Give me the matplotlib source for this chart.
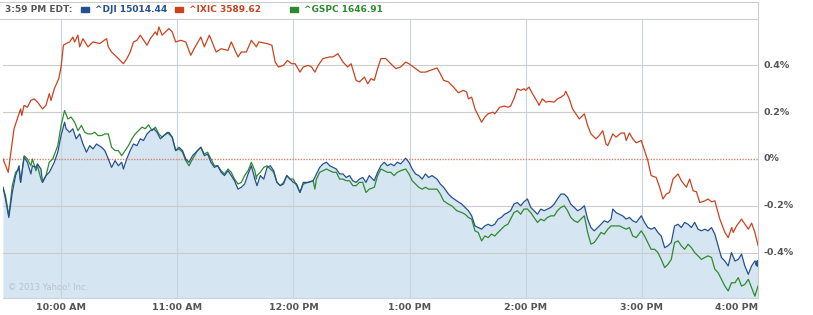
import matplotlib
matplotlib.use('Agg')
import matplotlib.pyplot as plt
from matplotlib.patches import Rectangle

# minutes after 9:30 AM, change in percent
dji_t = [0, 1.3, 3.0, 4.8, 6.5, 8.3, 9.1, 10.9, 12.6, 14.4, 15.2, 17.0, 17.8, 19.6, 20.4, 22.2, 23.9, 24.8, 26.5, 28.3,
         30.0, 31.8, 32.6, 34.4, 36.1, 37.8, 39.6, 41.3, 43.1, 44.8, 46.5, 48.3, 50.9, 52.6, 54.4, 56.1, 57.9, 59.6, 61.3, 62.2,
         63.9, 65.7, 67.4, 69.2, 70.9, 72.6, 74.4, 76.1, 77.9, 79.6, 81.3, 83.1, 85.7, 87.4, 89.2, 90.9, 92.7, 94.4, 96.1, 97.9,
         100.5, 102.2, 104.0, 105.7, 107.4, 109.2, 110.9, 112.7, 114.4, 116.2, 117.9, 119.6, 121.4, 123.1, 124.8, 126.6, 128.3, 130.1, 130.9,
         131.2, 132.9, 134.7, 136.4, 138.1, 139.8, 141.5, 143.2, 144.9, 146.6, 148.3, 150, 151.7, 153.4, 155.1, 157.7, 160.2, 161.9, 163.6, 165.3,
         167.1, 168.8, 170.5, 172.2, 173.9, 175.6, 177.3, 179.0, 180.7, 182.4, 184.1, 185.8, 187.5, 189.2, 191.8, 193.5, 195.2, 196.9, 198.6, 200.3,
         202.0, 203.7, 205.4, 208.0, 209.7, 211.4, 213.1, 214.8, 216.5, 218.2, 219.9, 221.6, 224.2, 225.9, 227.6, 230.1, 231.8, 234.4, 237.0, 238.7,
         240.4, 242.1, 243.8, 245.5, 247.2, 248.9, 250.6, 252.3, 254.0, 255.7, 257.4, 259.1, 260.8,
         262.2, 263.9, 265.7, 267.4, 269.1, 270.9, 272.6, 274.3, 276.1, 277.8, 279.5, 281.2, 283.0, 284.7, 286.4, 288.2, 289.9, 291.6, 293.3, 295.1,
         296.8, 298.5, 300.3, 302.0, 303.7, 305.4, 307.2, 308.9, 310.6, 312.4, 314.1, 315.0, 316.7, 318.4, 320.1, 321.9, 323.6, 325.3, 327.1, 329.7,
         331.4, 333.1, 334.8, 336.6, 338.3, 340.0, 341.8, 343.5, 345.2, 346.9, 348.7, 350.4, 352.1, 353.9, 355.6, 357.3, 359.0, 360.8, 362.5, 364.2,
         366.0, 367.7, 369.4, 371.1, 372.9, 374.6, 376.3, 378.1, 379.8, 381.5, 383.2, 385.0, 386.7, 388.4, 390]
dji_v = [-0.121, -0.171, -0.25, -0.143, -0.071, -0.029, -0.1, 0.007, -0.014, -0.064, -0.029, -0.036, -0.021, -0.043, -0.1, -0.071, -0.057, -0.043, -0.014, 0.029,
         0.1, 0.157, 0.129, 0.114, 0.129, 0.086, 0.107, 0.064, 0.029, 0.057, 0.043, 0.064, 0.05, 0.036, 0, -0.036, -0.007, -0.029, -0.014, -0.043,
         0, 0.036, 0.064, 0.057, 0.086, 0.079, 0.107, 0.121, 0.129, 0.114, 0.086, 0.1, 0.114, 0.093, 0.036, 0.05, 0.036, 0, -0.014, 0.014,
         0.036, 0.05, 0.014, 0.021, -0.014, -0.036, -0.029, -0.057, -0.071, -0.05, -0.071, -0.093, -0.129, -0.121, -0.107, -0.064, -0.029, -0.086, -0.107,
         -0.114, -0.071, -0.086, -0.036, -0.029, -0.05, -0.1, -0.114, -0.107, -0.071, -0.086, -0.1, -0.107, -0.143, -0.1, -0.1, -0.093, -0.064, -0.036, -0.021,
         -0.014, -0.029, -0.036, -0.043, -0.064, -0.064, -0.079, -0.071, -0.093, -0.1, -0.086, -0.079, -0.1, -0.071, -0.093, -0.057, -0.029, -0.014, -0.029, -0.021,
         -0.029, -0.014, -0.021, 0.003, -0.014, -0.043, -0.064, -0.071, -0.086, -0.064, -0.079, -0.071, -0.086, -0.107, -0.121, -0.15, -0.164, -0.179, -0.193, -0.207,
         -0.221, -0.243, -0.286, -0.293, -0.3, -0.286, -0.279, -0.286, -0.279, -0.257, -0.25, -0.236, -0.229,
         -0.221, -0.193, -0.186, -0.2, -0.183, -0.171, -0.207, -0.221, -0.236, -0.214, -0.221, -0.214, -0.207, -0.193, -0.171, -0.15, -0.15, -0.164, -0.193, -0.207,
         -0.221, -0.214, -0.2, -0.257, -0.293, -0.307, -0.293, -0.279, -0.264, -0.271, -0.257, -0.214, -0.229, -0.236, -0.243, -0.257, -0.25, -0.264, -0.271, -0.243,
         -0.271, -0.293, -0.3, -0.293, -0.314, -0.329, -0.379, -0.371, -0.357, -0.286, -0.279, -0.293, -0.271, -0.279, -0.293, -0.271, -0.3, -0.307, -0.3, -0.307,
         -0.293, -0.321, -0.371, -0.421, -0.436, -0.457, -0.4, -0.436, -0.429, -0.407, -0.457, -0.493, -0.457, -0.436, -0.443]

ixic_t = [0, 2.7, 5.7, 7.4, 9.1, 9.7, 10.9, 12.6, 14.4, 16.1, 17.8, 20.4, 22.2, 23.9, 24.8, 26.5, 28.8, 30, 31.2, 32.6,
          34.4, 36.1, 37, 38.7, 39.6, 41.3, 43.9, 46.5, 50, 53.5, 54.4, 56.1, 59.6, 62.2, 64, 65.7, 67.4, 69.2, 70.9, 74.4,
          76.1, 78.7, 79.6, 80.5, 82.2, 85.7, 87.4, 89.2, 91.8, 94.4, 97, 98.7, 102.2, 104, 106.6, 110.1, 112.7, 116.2, 117.9, 121.4,
          123.1, 125.7, 128.3, 130.9,
          132.1, 136.4, 138.9, 140.6, 142.3, 144.9, 146.9, 149.1, 150.9, 153.4, 155.1, 157.7, 159.4, 161.1, 162.8, 165.3, 168.8, 170.5, 173, 175.6,
          178.1, 179.8, 182.4, 184.1, 186.7, 188.4, 190.1, 191.8, 193.5, 195.2, 197.7, 200.3, 202.9, 205.4, 208, 209.7, 213.1, 215.6, 218.2, 220.8,
          224.2, 225.9, 227.6, 230.1, 232.7, 235.2, 237.8, 239.5, 240.4, 242.1, 243.8, 245.5, 247.2, 248.9, 250.6, 253.2, 254, 256.6, 259.1, 260.8,
          262.2, 263.9, 265.7, 267.4, 269.1, 270, 271.7, 273.5, 276.1, 276.9, 278.6, 280.4, 282.1, 284.7, 286.4, 288.2, 289.9, 290.7, 292.5, 294.2,
          295.9, 297.7, 300.3, 302, 303.7, 306.3, 308, 309.8, 311.5, 312.4, 315, 316.7, 319.3, 321, 321.9, 323.6, 325.3, 327.1, 329.7, 331.4,
          333.1, 334.8, 337.4, 339.2, 340.9, 342.6, 344.3, 346.1, 348.7, 350.4, 353, 354.7, 356.5, 358.2, 359.9, 362.5, 364.2, 366, 367.7, 370.3,
          372.9, 374.6, 376.4, 377.2, 378.9, 381.5, 383.3, 385, 386.7, 388.4, 390]
ixic_v = [0, -0.057, 0.129, 0.171, 0.214, 0.186, 0.229, 0.221, 0.25, 0.257, 0.243, 0.214, 0.229, 0.279, 0.25, 0.3, 0.343, 0.393, 0.486, 0.493,
          0.5, 0.521, 0.5, 0.529, 0.479, 0.514, 0.479, 0.5, 0.493, 0.514, 0.479, 0.457, 0.429, 0.407, 0.429, 0.457, 0.5, 0.507, 0.529, 0.486,
          0.514, 0.543, 0.529, 0.564, 0.529, 0.557, 0.543, 0.5, 0.507, 0.5, 0.443, 0.471, 0.521, 0.479, 0.529, 0.457, 0.471, 0.464, 0.5, 0.436,
          0.457, 0.457, 0.507, 0.479,
          0.5, 0.493, 0.486, 0.414, 0.393, 0.4, 0.421, 0.407, 0.407, 0.371, 0.393, 0.4, 0.393, 0.371, 0.4, 0.429, 0.436, 0.436, 0.45, 0.414,
          0.393, 0.407, 0.336, 0.329, 0.35, 0.321, 0.343, 0.336, 0.386, 0.429, 0.429, 0.407, 0.386, 0.393, 0.414, 0.407, 0.386, 0.371, 0.371, 0.379,
          0.389, 0.364, 0.336, 0.329, 0.307, 0.283, 0.293, 0.286, 0.257, 0.264, 0.214, 0.186, 0.157, 0.179, 0.193, 0.2, 0.193, 0.221, 0.226, 0.221,
          0.226, 0.257, 0.3, 0.293, 0.3, 0.293, 0.307, 0.279, 0.243, 0.229, 0.257, 0.243, 0.246, 0.243, 0.257, 0.264, 0.274, 0.289, 0.257, 0.214,
          0.193, 0.171, 0.193, 0.143, 0.107, 0.086, 0.1, 0.121, 0.064, 0.057, 0.107, 0.093, 0.111, 0.111, 0.079, 0.111, 0.086, 0.069, 0.079, 0.036,
          -0.007, -0.071, -0.079, -0.121, -0.171, -0.15, -0.143, -0.086, -0.064, -0.093, -0.121, -0.086, -0.136, -0.14, -0.186, -0.179, -0.171, -0.183, -0.179, -0.257,
          -0.314, -0.336, -0.293, -0.314, -0.286, -0.257, -0.279, -0.3, -0.274, -0.314, -0.369]

gspc_t = [0, 1.3, 3.0, 4.8, 6.5, 8.3, 9.1, 10.9, 12.6, 14.4, 15.2, 17.0, 17.8, 19.6, 20.4, 22.2, 23.9, 25.7, 28.3, 30.0,
          31.8, 33.5, 35.2, 37.0, 38.7, 40.5, 42.2, 43.9, 45.7, 47.4, 49.1, 50.9, 52.6, 54.4, 56.1, 57.9, 59.6, 61.3, 63.1, 64.8,
          66.6, 68.3, 70.0, 71.8, 73.5, 75.2, 77.0, 78.7, 80.5, 82.2, 84.8, 87.4, 89.2, 90.9, 92.7, 94.4, 96.1, 97.9, 100.5, 102.2,
          104.0, 105.7, 107.4, 109.2, 110.9, 112.7, 114.4, 116.2, 117.9, 119.6, 121.4, 123.1, 124.8, 126.6, 128.3, 130.1, 130.9,
          131.2, 132.9, 134.7, 136.4, 138.1, 139.8, 141.5, 143.2, 144.9, 146.6, 148.3, 150, 151.7, 153.4, 155.1, 157.7, 160.2, 161.1, 161.9, 163.6,
          165.3, 167.1, 168.8, 170.5, 172.2, 173.9, 175.6, 177.3, 179.0, 180.7, 182.4, 184.1, 185.8, 187.5, 189.2, 191.8, 193.5, 195.2, 196.9, 198.6,
          200.3, 202.0, 203.7, 205.4, 208.0, 209.7, 211.4, 213.1, 214.8, 216.5, 218.2, 219.9, 221.6, 224.2, 225.9, 227.6, 230.1, 231.8, 234.4, 237.0,
          238.7, 240.4, 242.1, 243.8, 245.5, 247.2, 248.9, 250.6, 252.3, 254.0, 255.7, 257.4, 259.1, 260.8,
          262.2, 263.9, 265.7, 267.4, 269.1, 270.9, 272.6, 274.3, 276.1, 277.8, 279.5, 281.2, 283.0, 284.7, 286.4, 288.2, 289.9, 291.6, 293.3, 295.1,
          296.8, 298.5, 300.3, 302.0, 303.7, 305.4, 307.2, 308.9, 310.6, 312.4, 314.1, 315.8, 318.4, 320.1, 321.9, 323.6, 325.3, 327.1, 329.7, 331.4,
          333.1, 334.8, 336.6, 338.3, 340.0, 341.8, 343.5, 345.2, 346.9, 348.7, 350.4, 352.1, 353.9, 355.6, 357.3, 359.0, 360.8, 362.5, 364.2, 366.0,
          367.7, 369.4, 371.1, 372.9, 374.6, 376.3, 378.1, 379.8, 381.5, 383.2, 385.0, 386.7, 388.4, 390]
gspc_v = [-0.121, -0.157, -0.243, -0.114, -0.057, -0.043, -0.1, 0.014, 0, -0.029, 0, -0.05, -0.029, -0.086, -0.1, -0.071, -0.014, 0, 0.057, 0.143,
          0.207, 0.171, 0.179, 0.157, 0.121, 0.143, 0.114, 0.107, 0.107, 0.114, 0.1, 0.1, 0.107, 0.107, 0.05, 0.036, 0.036, 0.014, 0.036, 0.057,
          0.086, 0.107, 0.121, 0.136, 0.129, 0.146, 0.121, 0.136, 0.107, 0.093, 0.114, 0.093, 0.036, 0.043, 0.029, -0.007, -0.029, 0, 0.036, 0.05,
          0.021, 0.029, 0, -0.029, -0.029, -0.05, -0.064, -0.043, -0.057, -0.086, -0.107, -0.1, -0.071, -0.05, -0.014, -0.05, -0.086,
          -0.071, -0.057, -0.036, -0.029, -0.043, -0.057, -0.1, -0.114, -0.1, -0.071, -0.086, -0.086, -0.114, -0.143, -0.107, -0.1, -0.093, -0.129, -0.086, -0.057,
          -0.05, -0.043, -0.05, -0.057, -0.057, -0.086, -0.086, -0.093, -0.093, -0.114, -0.114, -0.1, -0.1, -0.143, -0.129, -0.121, -0.071, -0.043, -0.05, -0.057,
          -0.057, -0.071, -0.057, -0.05, -0.043, -0.064, -0.093, -0.107, -0.121, -0.129, -0.121, -0.129, -0.129, -0.129, -0.15, -0.179, -0.193, -0.2, -0.221, -0.229,
          -0.236, -0.25, -0.257, -0.307, -0.314, -0.35, -0.329, -0.336, -0.321, -0.329, -0.314, -0.3, -0.286, -0.279,
          -0.257, -0.229, -0.221, -0.236, -0.214, -0.214, -0.229, -0.25, -0.271, -0.257, -0.264, -0.25, -0.243, -0.243, -0.221, -0.207, -0.2, -0.221, -0.25, -0.264,
          -0.271, -0.257, -0.243, -0.314, -0.364, -0.357, -0.336, -0.314, -0.321, -0.3, -0.286, -0.286, -0.286, -0.293, -0.3, -0.293, -0.329, -0.336, -0.307, -0.329,
          -0.357, -0.386, -0.386, -0.4, -0.429, -0.464, -0.45, -0.429, -0.357, -0.35, -0.371, -0.386, -0.364, -0.379, -0.4, -0.414, -0.429, -0.421, -0.414, -0.421,
          -0.471, -0.486, -0.514, -0.543, -0.564, -0.529, -0.529, -0.507, -0.543, -0.536, -0.514, -0.55, -0.586, -0.543]

hour_ticks = [30, 90, 150, 210, 270, 330, 390]
hour_labels = ['10:00 AM', '11:00 AM', '12:00 PM', '1:00 PM', '2:00 PM', '3:00 PM', '4:00 PM']
pct_ticks = [0.4, 0.2, 0, -0.2, -0.4]
pct_labels = ['0.4%', '0.2%', '0%', '-0.2%', '-0.4%']

blue = '#24508f'
red = '#c9431f'
green = '#2f8a2f'
label_gray = '#555555'

W, H = 813, 315
fig = plt.figure(figsize=(W / 100, H / 100), dpi=100)
ax = fig.add_axes([3 / W, 17 / H, 755 / W, 279 / H])
ax.set_xlim(0, 390)
ax.set_ylim(-0.594, 0.598)

for s in ax.spines.values():
    s.set_visible(False)
ax.set_xticks([])
ax.set_yticks([])

# grid
for t in hour_ticks[:-1]:
    ax.axvline(t, color='#c8d3de', lw=0.8, zorder=1)
for p in [0.4, 0.2, -0.2, -0.4]:
    ax.axhline(p, color='#cccccc', lw=0.8, zorder=1)

ax.fill_between(dji_t, dji_v, -0.594, color='#d5e5f1', lw=0, zorder=0.5)
ax.axhline(0, color='#d9826a', lw=1.0, ls=(0, (1, 1)), zorder=2)

ax.plot(ixic_t, ixic_v, color=red, lw=0.9, zorder=3)
ax.plot(gspc_t, gspc_v, color=green, lw=0.9, zorder=3)
ax.plot(dji_t, dji_v, color=blue, lw=0.9, zorder=4)
ax.plot(dji_t[-1], dji_v[-1], 'o', color=blue, ms=4, zorder=5)

# frame lines
line_kw = dict(color='#cccccc', lw=0.8)
fig.add_artist(plt.Line2D([0, 758 / W], [1 - 1.5 / H, 1 - 1.5 / H], **line_kw))
fig.add_artist(plt.Line2D([0, 758 / W], [1 - 19 / H, 1 - 19 / H], **line_kw))
fig.add_artist(plt.Line2D([758 / W, 758 / W], [17 / H, 1 - 1.5 / H], **line_kw))
fig.add_artist(plt.Line2D([3 / W, 758 / W], [17 / H, 17 / H], color='#c8d3de', lw=0.8))

# tick labels
for t, lab in zip(hour_ticks, hour_labels):
    xf = (3 + t / 390 * 755) / W
    ha = 'right' if t == 390 else 'center'
    if t == 390:
        xf = 758 / W
    fig.text(xf, 1 - 307 / H, lab, ha=ha, va='center', fontsize=6.8, fontweight='bold', color=label_gray)
for p, lab in zip(pct_ticks, pct_labels):
    ax.text(1.007, (p + 0.594) / 1.192, lab, transform=ax.transAxes, ha='left', va='center',
            fontsize=6.8, fontweight='bold', color=label_gray)

ax.text(0.007, 0.02, '© 2013 Yahoo! Inc.', transform=ax.transAxes, ha='left', va='bottom',
        fontsize=6, color='#b8c4ce')

# header
hy = 1 - 10 / H
fig.text(5 / W, hy, '3:59 PM EDT:', ha='left', va='center', fontsize=6.5, fontweight='bold', color=label_gray)
entries = [(81, blue, '^DJI 15014.44'), (175, red, '^IXIC 3589.62'), (290, green, '^GSPC 1646.91')]
for x0, c, txt in entries:
    fig.add_artist(Rectangle((x0 / W, 1 - 12 / H), 8 / W, 5 / H, color=c, transform=fig.transFigure))
    fig.text((x0 + 14) / W, hy, txt, ha='left', va='center', fontsize=6.5, fontweight='bold', color=c)

fig.savefig('out.png', dpi=100)
